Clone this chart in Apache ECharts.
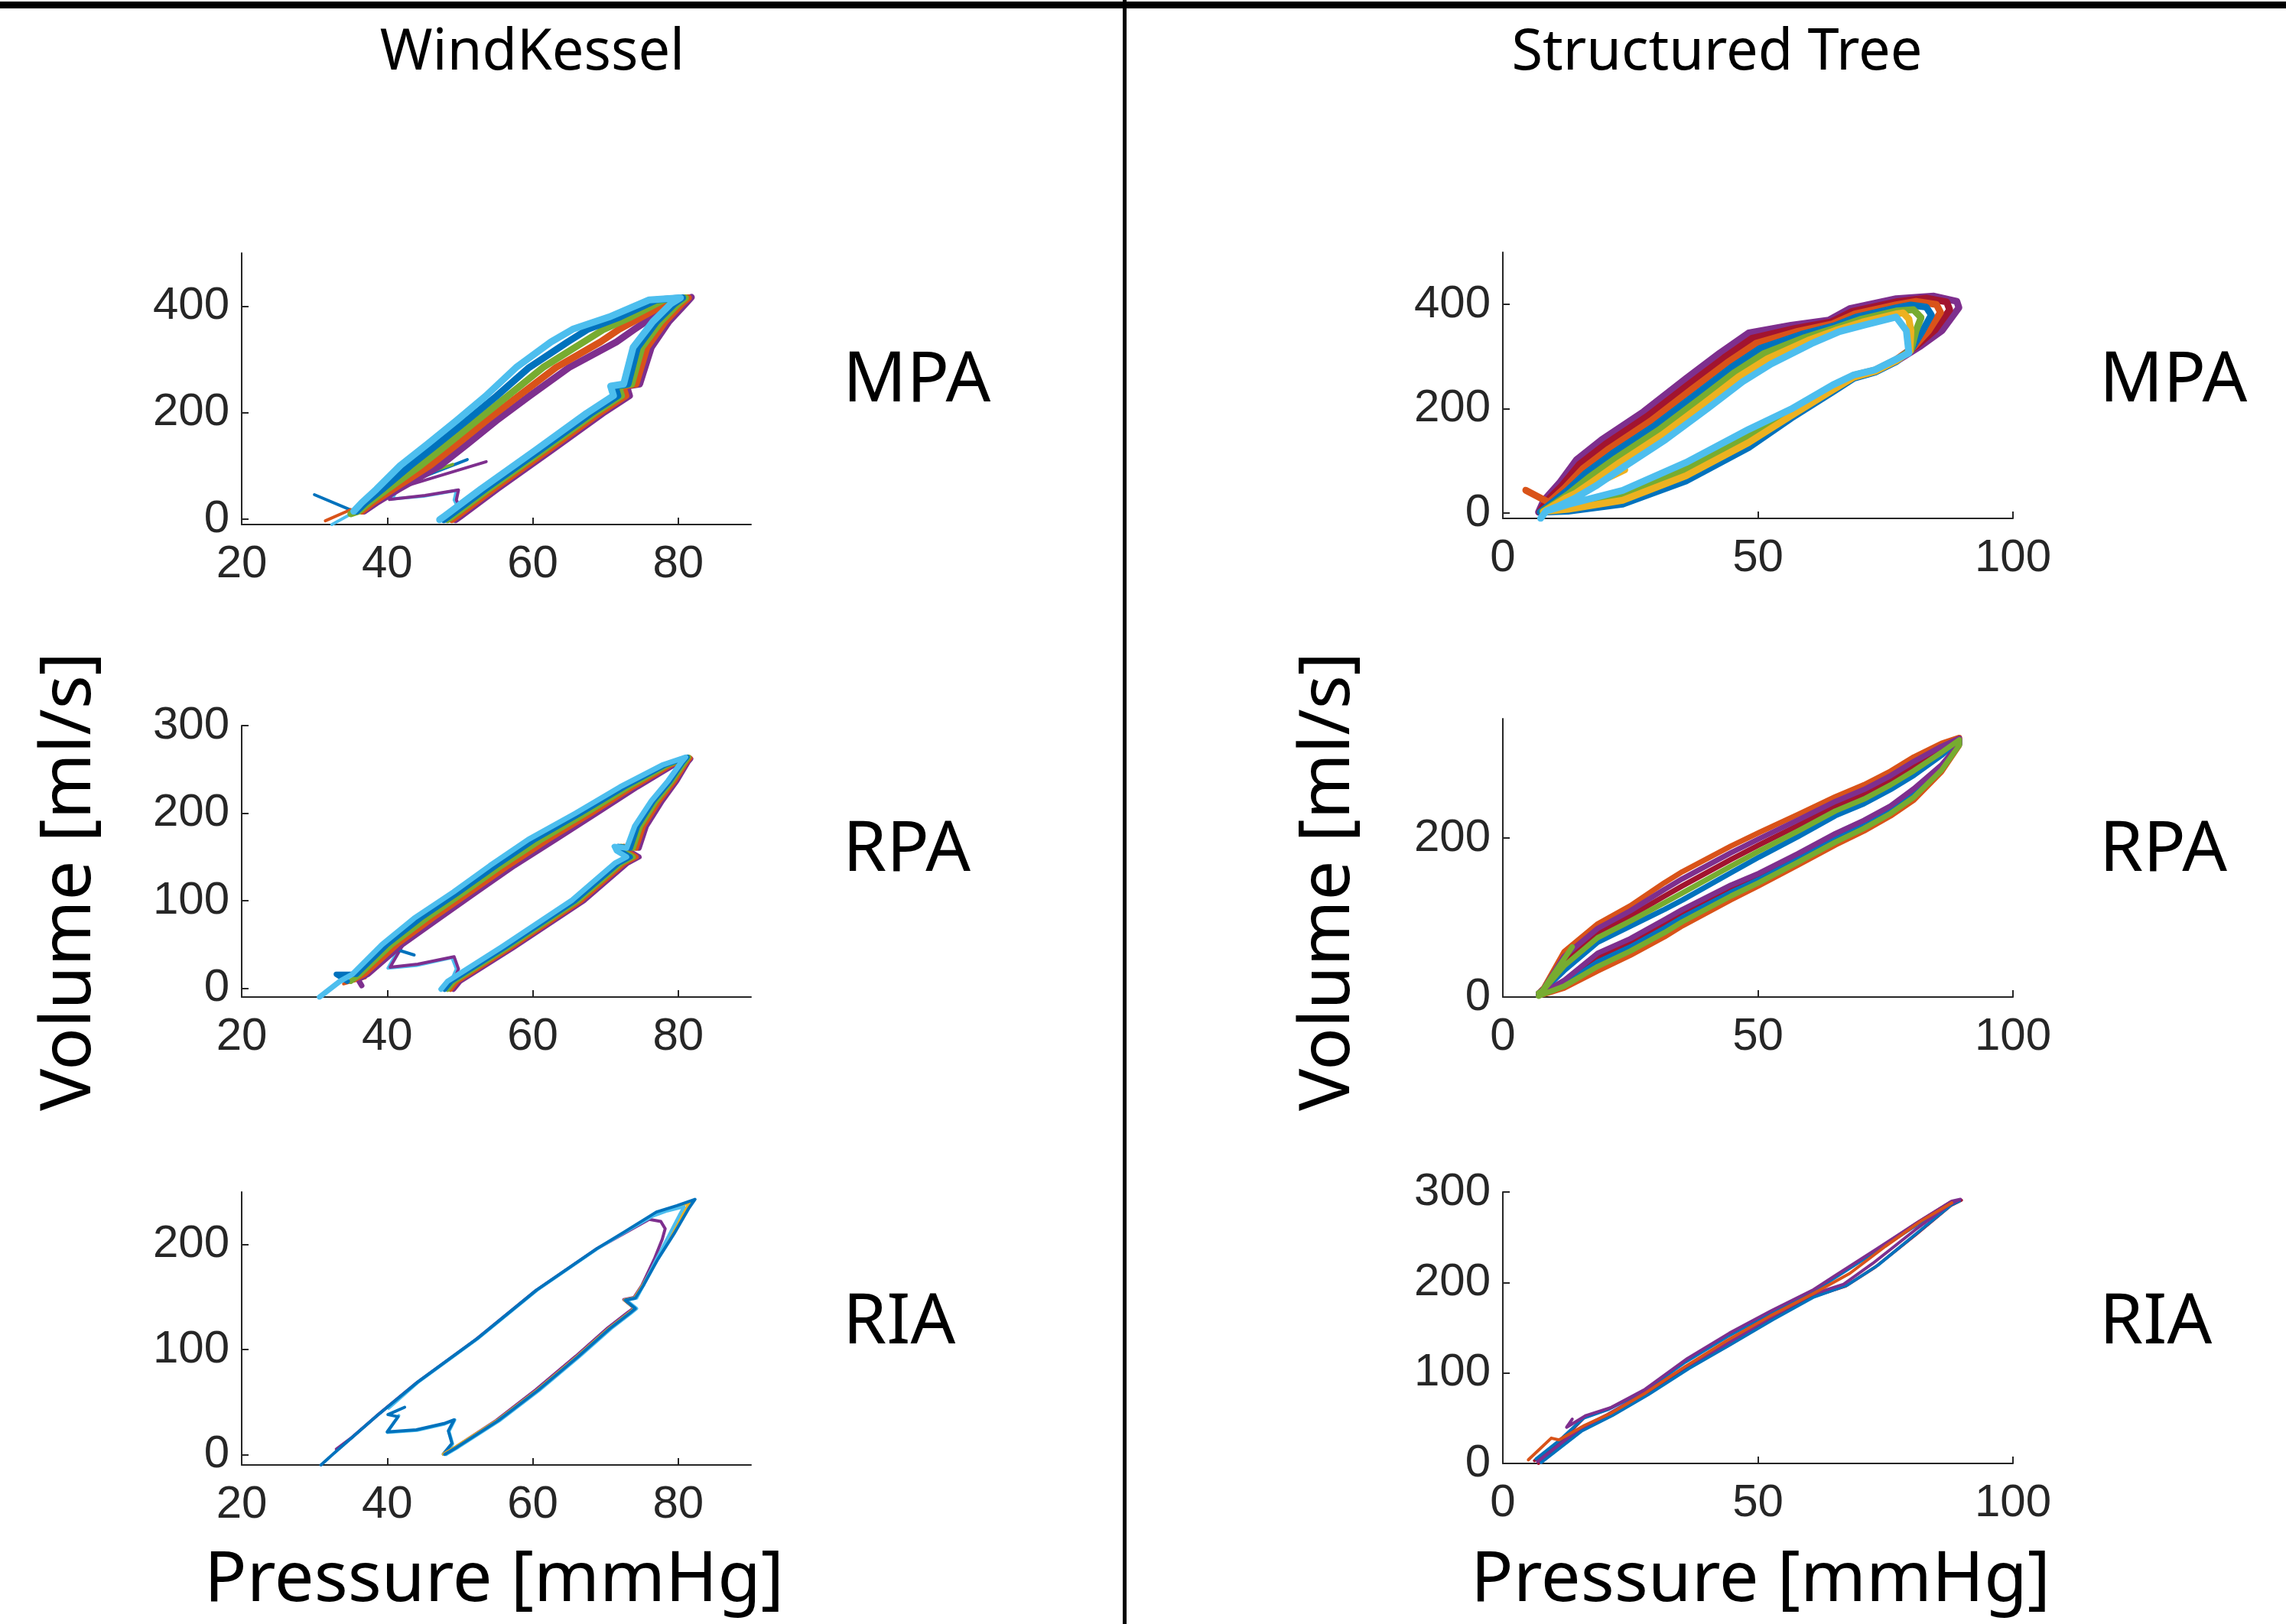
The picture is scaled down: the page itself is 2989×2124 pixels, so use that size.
<!DOCTYPE html>
<html lang="en">
<head>
    <meta charset="UTF-8">
    <title>Pressure - Volume loops</title>
    <script src="https://cdn.jsdelivr.net/npm/echarts@6/dist/echarts.min.js"></script>
    <style>
        html, body { margin: 0; padding: 0; background: #fff; }
        #main { width: 2989px; height: 2124px; }
    </style>
</head>
<body>
    <div id="main"></div>
    <script>
        // MATLAB default line colours
        var matlabColors = ['#0072BD', '#D95319', '#EDB120', '#7E2F8E', '#77AC30', '#4DBEEE', '#A2142F'];

        // tick labels
        var wkXTicks = [20, 40, 60, 80];
        var stXTicks = [0, 50, 100];
        var mpaYTicks = [0, 200, 400];
        var wkRpaYTicks = [0, 100, 200, 300];
        var wkRiaYTicks = [0, 100, 200];
        var stRpaYTicks = [0, 200];
        var stRiaYTicks = [0, 100, 200, 300];

        // traces: [pressure mmHg, volume ml/s]
        var wkMpa = [
            [[49.4,-1],[50.1,6],[55.1,57],[62.6,130],[69.6,199],[73.3,232],[72.9,250],[74.7,254],[76.3,323],[78.7,371],[81,405],[81.8,417],[80,405],[76.5,380],[74,357],[71.5,333],[65,285],[59.5,231],[55,185],[51,141],[47.3,101],[41.5,56],[38.5,31],[36.8,15]],
            [[48.9,-1],[49.6,6],[54.6,57],[62.1,130],[69.1,199],[72.8,232],[72.4,250],[74.2,254],[75.7,323],[78.2,371],[80.5,405],[81.4,416],[79,410],[75,380],[71.9,357],[69.3,333],[63.2,285],[58,231],[53.6,185],[49.6,141],[45.9,101],[40.8,56],[38,31],[36.5,15]],
            [[48.3,-1],[49,6],[54,57],[61.5,130],[68.5,199],[72.2,232],[71.8,250],[73.6,254],[75,323],[77.6,371],[80,405],[81,416],[78,412],[73.5,380],[69.8,357],[67,333],[61.4,285],[56.5,231],[52.3,185],[48.3,141],[44.6,101],[40,56],[37.5,31],[36.1,15],[35,10]],
            [[47.8,-1],[48.5,6],[53.5,57],[61,130],[68,199],[71.7,232],[71.3,250],[73.1,254],[74.4,323],[77,371],[79.5,405],[80.6,416],[77,412],[72,380],[67.6,357],[64.8,333],[59.5,285],[55,231],[50.9,185],[46.9,141],[43.2,101],[39.3,56],[37,31],[35.8,15]],
            [[47.2,-1],[47.9,6],[52.9,57],[60.4,130],[67.4,199],[71.1,232],[70.7,250],[72.5,254],[73.8,323],[76.5,371],[79,405],[80.3,416],[76,412],[70.5,380],[65.5,357],[62.5,333],[57.7,285],[53.5,231],[49.5,185],[45.5,141],[41.8,101],[38.5,56],[36.5,31],[35.4,15]]
        ];
        var wkMpaThin = [
            [[41.7,64],[40.7,38],[45,43],[49.5,54],[49.2,36],[49.7,22],[48.3,-1]],
            [[41,60],[40.3,37],[45.2,44.5],[49.8,55],[49.5,36],[50,22],[48.8,-1]],
            [[41.2,60],[51,112]],
            [[41.5,58],[53.6,108]],
            [[40.8,65],[49,103]],
            [[35.4,15],[30,46]],
            [[35.6,14],[32.4,-10]],
            [[35,18],[31.5,-3]]
        ];
        var wkRpa = [
            [[49.1,-1],[50,8],[57.4,47],[67,100],[73,143],[74.6,150],[73.2,157],[72.9,162],[74.6,160],[75.6,185],[77.8,214],[79.8,237],[81.3,258],[81.7,262],[79.4,255],[74.4,230],[68.8,200],[63.2,170],[57.5,140],[52.3,110],[47.2,80],[42.1,50],[37.4,16],[36,10],[36.5,3]],
            [[48.7,-1],[49.6,8],[57,47],[66.6,100],[72.6,143],[74.2,150],[72.8,157],[72.5,162],[74.2,160],[75.2,185],[77.4,214],[79.5,237],[81.1,258],[81.6,263],[79,255],[73.8,230],[68.1,200],[62.2,170],[56.7,140],[51.5,110],[46.3,80],[41.4,50],[36.9,16],[35.5,10]],
            [[48.3,-1],[49.2,8],[56.6,47],[66.2,100],[72.2,143],[73.8,150],[72.4,157],[72.1,162],[73.8,160],[74.8,185],[77,214],[79.2,237],[80.9,258],[81.4,264],[78.6,255],[73.2,230],[67.4,200],[61.3,170],[55.8,140],[50.7,110],[45.5,80],[40.7,50],[36.3,16],[35,8]],
            [[47.9,-1],[48.8,8],[56.2,47],[65.8,100],[71.8,143],[73.4,150],[72,157],[71.7,162],[73.4,160],[74.4,185],[76.6,214],[78.9,237],[80.6,258],[81.2,264],[78.2,255],[72.6,230],[66.6,200],[60.3,170],[55,140],[49.9,110],[44.6,80],[40,50],[35.8,16],[33,16],[34.5,8]],
            [[47.4,-1],[48.3,8],[55.7,47],[65.3,100],[71.3,143],[72.9,150],[71.5,157],[71.2,162],[72.9,160],[74,185],[76.3,214],[78.6,237],[80.4,258],[81,264],[77.8,255],[72,230],[65.9,200],[59.4,170],[54.1,140],[49.1,110],[43.7,80],[39.3,50],[35.2,16],[33.5,8],[30.7,-10]]
        ];
        var wkRpaThin = [
            [[41.8,48],[40.1,23],[44,26],[48.9,35],[49.5,22],[48.4,1.5],[48.8,-1]],
            [[42.2,50],[40.4,24],[44.2,27.5],[49.2,36],[49.8,22],[48.8,1],[49.2,-1]],
            [[41,45],[43.7,38]],
            [[33,16],[36.5,18]],
            [[34,5],[37,12]]
        ];
        var wkRia = [
            [[47.8,0.5],[49.5,7.5],[55,32.5],[60.4,61.5],[65.9,93.5],[70.3,120.5],[73,135],[73.9,139.5],[72.5,147.5],[73.9,149.5],[75,161],[76.7,186],[77.8,205],[78.2,215],[77.6,222],[76,224],[72.4,210],[68.7,195.5],[60.4,156],[52.2,109.5],[44,68],[38.5,36.5],[35.2,16.5],[33,5]],
            [[47.7,0.3],[49.4,7.2],[55.1,32.2],[60.6,61.2],[66.1,93.2],[70.5,120.2],[73.2,134.7],[74,139.2],[72.6,147.2],[74,149.2],[75.1,161],[77.1,186],[79,210],[80.9,232],[81.6,240],[79.2,234],[76.8,229]],
            [[48.1,0],[49.8,7],[55.4,32],[60.9,61],[66.4,93],[70.8,120],[73.5,134.5],[74.3,139],[72.9,147],[74.3,149],[75.2,161],[77,186],[78.8,210],[80.3,230],[80.8,236],[78.5,232],[76.5,227],[72.5,211],[68.9,196],[60.6,156.5],[52.4,110],[44.2,68.5],[40.2,44]],
            [[47.9,0],[49.6,7],[55.2,32],[60.7,61],[66.2,93],[70.6,120],[73.3,134.5],[74.1,139],[72.7,147],[74.1,149],[75.2,161],[77.2,186],[79.4,210],[81.5,235],[82.3,243],[79.8,237],[77,231],[72.6,212],[68.8,196],[60.5,156.5],[52.3,110],[44.1,68.5],[38.6,37],[35.3,17],[32.5,0],[30.9,-10]]
        ];
        var wkRiaThin = [
            [[41.6,37],[40,21],[44.1,23],[47.9,29],[49.3,33],[48.5,22],[49,10],[48.1,0]],
            [[42.4,45],[40.1,38],[41.5,36],[40,21.5],[44,23.5],[47.8,29.5],[49.2,33],[48.4,22.5],[48.9,10.5],[47.7,0.3]]
        ];
        var stMpa = [
            [[7,2],[12.8,5.3],[23.5,20.4],[35.9,65.8],[48.2,129.7],[56.5,183.9],[64.7,234],[68.8,259.4],[73,271],[77.1,291],[82,321],[86.1,350],[89.4,394],[89,406],[84.5,416],[77.1,411],[68,392],[63.9,370],[56.5,360],[48.2,345.5],[42.5,306.6],[35.9,258],[27.6,194.6],[19.4,141],[14.4,102],[11.1,58],[8,24],[7,2]],
            [[7.2,2],[12.8,9.7],[23.5,29.2],[35.9,77.5],[48.2,141.3],[56.5,189.8],[64.7,238.5],[68.8,261.5],[73,272.5],[77.1,292.5],[81,320],[84.8,352],[87.6,390],[87,405],[83,412],[77.1,405],[68.5,386.7],[64.3,366.3],[57.2,354],[48.9,335.4],[43.3,297.3],[36.6,248.3],[28.3,185.5],[20.1,132],[15,93.5],[11.6,52.9],[8.5,22.3],[7.2,2]],
            [[7.5,3],[12.8,15.5],[23.5,40.9],[35.9,93.1],[48.2,156.7],[56.5,197.6],[64.7,244.5],[68.8,264.3],[73,274.5],[77.1,294.5],[80.5,318],[83.5,350],[85.8,385],[85,400],[81,406],[77.1,399.5],[69,381.8],[64.6,362.7],[57.8,348.5],[49.7,325.9],[44,288.6],[37.3,239.2],[29,176.9],[20.8,123.5],[15.7,85.5],[12.1,48.1],[9,20.7],[4.5,44]],
            [[7.3,2],[12.8,3.9],[23.5,17.5],[35.9,61.9],[48.2,125.9],[56.5,182],[64.7,232.5],[68.8,258.7],[73,270.5],[77.1,290.5],[80.2,316],[82.3,350],[84,380],[83,395],[80,399],[77.1,393.5],[69.5,376.5],[65,359],[58.5,342.5],[50.4,315.8],[44.8,279.3],[38.1,229.5],[29.8,167.8],[21.5,114.5],[16.3,77],[12.6,43],[9.5,19],[7.3,2]],
            [[7.8,3],[12.8,12.6],[23.5,35],[35.9,85.3],[48.2,149],[56.5,193.7],[64.7,241.5],[68.8,262.9],[73,273.5],[77.1,293.5],[80,312],[81,350],[82,375],[80.5,390],[77.1,387.5],[70,371.2],[65.3,355.3],[59.2,336.5],[51.1,305.6],[45.5,270],[38.8,219.8],[30.5,158.7],[22.2,105.5],[16.9,68.5],[13,37.9],[10,17.3],[7.8,3]],
            [[23.9,83],[12.5,30],[8,3],[12.8,7.5],[23.5,24.8],[35.9,71.7],[48.2,135.5],[56.5,186.8],[64.7,236.3],[68.8,260.5],[73,271.8],[77.1,291.8],[79.8,310],[80,350],[79.6,372],[78.5,384],[77.1,382],[70.5,366.3],[65.6,351.7],[59.8,331],[51.9,296.1],[46.2,261.3],[39.5,210.7],[31.2,150.1],[22.9,97],[17.6,60.5],[13.5,33.1],[10.5,15.7],[8,3]],
            [[8.5,4],[12.8,17],[23.5,43.8],[35.9,97],[48.2,160.6],[56.5,199.5],[64.7,246],[68.8,265],[73,275],[77.1,295],[79.6,307],[79.1,350],[77.1,376],[71,361],[66,348],[60.5,325],[52.6,286],[47,252],[40.2,201],[31.9,141],[23.6,88],[18.2,52],[14,28],[11,14],[8.5,4],[7.4,-10]]
        ];
        var stRpa = [
            [[7,2],[8,3.3],[12,11.2],[18.6,32.8],[25,52.6],[31.7,75.7],[35.2,89.6],[44.7,122.3],[50.2,140],[57.8,165.8],[65.2,191.3],[70.8,208.7],[76,227.6],[80.6,247.8],[86,283.1],[89.5,316.3],[89.5,326.5],[86,319.1],[80.6,302.1],[76,284.1],[70.8,267],[65.2,252],[57.8,229.5],[50.2,206.7],[44.7,189.8],[35.2,157.6],[31.7,143.8],[25,114.8],[18.6,92.1],[12,57],[8,11.6],[7,5]],
            [[7,2],[8,5.1],[12,18.4],[18.6,49.6],[25,68.2],[31.7,91.9],[35.2,104.9],[44.7,136.1],[50.2,151.7],[57.8,176.6],[65.2,202.1],[70.8,218.9],[76,237.2],[80.6,258.6],[86,289.7],[89.5,318.1],[89.5,324.5],[86,311.5],[80.6,290.5],[76,272.5],[70.8,255],[65.2,240],[57.8,215.5],[50.2,191.3],[44.7,173],[35.2,139.8],[31.7,127],[25,102],[18.6,80.5],[12,45],[8,10],[7,5]],
            [[7,2],[8,4.5],[12,16],[18.6,44],[25,63],[31.7,86.5],[35.2,99.8],[44.7,131.5],[50.2,147.8],[57.8,173],[65.2,198.5],[70.8,215.5],[76,234],[80.6,255],[86,287.5],[89.5,317.5],[89.5,322.5],[86,303.9],[80.6,278.9],[76,260.9],[70.8,243],[65.2,228],[57.8,201.5],[50.2,175.9],[44.7,156.2],[35.2,122],[31.7,110.2],[25,89.2],[18.6,68.9],[12,33],[8,8.4],[7,5]],
            [[7,2],[8,5.7],[12,20.8],[18.6,55.2],[25,73.4],[31.7,97.3],[35.2,110],[44.7,140.7],[50.2,155.6],[57.8,180.2],[65.2,205.7],[70.8,222.3],[76,240.4],[80.6,262.2],[86,291.9],[89.5,318.7],[89.5,325.5],[86,315.3],[80.6,296.3],[76,278.3],[70.8,261],[65.2,246],[57.8,222.5],[50.2,199],[44.7,181.4],[35.2,148.7],[31.7,135.4],[25,108.4],[18.6,86.3],[12,51],[8,10.8],[7,5]],
            [[13.6,63],[9,20],[7,1],[8,3.9],[12,13.6],[18.6,38.4],[25,57.8],[31.7,81.1],[35.2,94.7],[44.7,126.9],[50.2,143.9],[57.8,169.4],[65.2,194.9],[70.8,212.1],[76,230.8],[80.6,251.4],[86,285.3],[89.5,316.9],[89.5,323.5],[86,307.7],[80.6,284.7],[76,266.7],[70.8,249],[65.2,234],[57.8,208.5],[50.2,183.6],[44.7,164.6],[35.2,130.9],[31.7,118.6],[25,95.6],[18.6,74.7],[12,39],[8,9.2],[7,5]]
        ];
        var stRia = [
            [[7,0],[15.3,37],[21,52],[28,75],[35.9,104.5],[44.1,130],[52.4,158],[60.6,184],[67.2,196],[73,217],[81.2,254],[87.8,285],[89.9,291],[87.8,289],[81.2,266],[73,235],[64.7,205],[60.6,190],[52.4,167],[44.1,142],[35.9,114],[27.6,80],[21,61],[16,51],[11.1,23],[6.2,3]],
            [[7.5,1],[15.5,36],[21.5,53],[28.5,76],[36.5,105],[44.5,131],[53,159],[61,184],[67.5,197],[73.5,219],[81.5,256],[88,286],[89.5,290],[87.5,287],[81,263],[72.8,233],[64.5,203],[60.4,188],[52.2,165],[44,140],[35.8,112],[27.5,79],[20.8,60],[15.8,50],[11,25],[6.5,5]],
            [[6.8,2],[15,38],[20.5,54],[27.5,77],[35.5,106],[43.8,132],[52,160],[60.2,186],[66.8,198],[72.5,221],[80.8,258],[87.5,286],[89.7,292],[88,290],[81.5,267],[73.3,237],[65,207],[60.9,192],[52.7,169],[44.4,144],[36.2,116],[27.9,82],[21.3,62],[16.3,53],[12.5,40],[13.6,49]],
            [[5,4],[9.5,28],[11,26],[16,42],[21,55],[28,78],[36,108],[44,136],[52.4,163],[60.6,187],[68,210],[75,240],[82,268],[88,288]]
        ];

        var panels = [
            { box: [316, 331, 666, 355], x: [20, 90], xt: wkXTicks, y: [-10, 500], yt: mpaYTicks,
              traces: wkMpa, col: [3, 1, 4, 0, 5], lw: 9, thin: wkMpaThin, thinCol: [5, 3, 0, 3, 4, 0, 5, 1] },
            { box: [316, 949, 666, 355], x: [20, 90], xt: wkXTicks, y: [-10, 300], yt: wkRpaYTicks,
              traces: wkRpa, col: [3, 1, 4, 0, 5], lw: 7, thin: wkRpaThin, thinCol: [5, 3, 0, 3, 1] },
            { box: [316, 1559, 666, 357], x: [20, 90], xt: wkXTicks, y: [-10, 250], yt: wkRiaYTicks,
              traces: wkRia, col: [3, 2, 5, 0], lw: 4, thin: wkRiaThin, thinCol: [5, 0] },
            { box: [1965, 330, 667, 348], x: [0, 100], xt: stXTicks, y: [-10, 500], yt: mpaYTicks,
              traces: stMpa, col: [3, 6, 1, 0, 4, 2, 5], lw: 9 },
            { box: [1965, 940, 667, 364], x: [0, 100], xt: stXTicks, y: [0, 350], yt: stRpaYTicks,
              traces: stRpa, col: [1, 6, 0, 3, 4], lw: 7 },
            { box: [1965, 1559, 667, 355], x: [0, 100], xt: stXTicks, y: [0, 300], yt: stRiaYTicks,
              traces: stRia, col: [6, 0, 3, 1], lw: 4 }
        ];

        var axisColor = '#262626';
        var grids = [], xAxes = [], yAxes = [], series = [];

        function addLine(i, data, color, width) {
            series.push({
                type: 'line', xAxisIndex: i, yAxisIndex: i,
                data: data, showSymbol: false, symbol: 'none', silent: true,
                lineStyle: { color: color, width: width, join: 'round', cap: 'round' }
            });
        }

        panels.forEach(function (p, i) {
            grids.push({ left: p.box[0], top: p.box[1], width: p.box[2], height: p.box[3], containLabel: false });
            var common = {
                gridIndex: i, type: 'value',
                splitLine: { show: false },
                axisLine: { show: true, onZero: false, lineStyle: { color: axisColor, width: 2 } },
                axisTick: { show: true, inside: true, length: 9, lineStyle: { color: axisColor, width: 2 } },
                axisLabel: { fontSize: 60, fontFamily: 'Liberation Sans', color: axisColor }
            };
            var xa = JSON.parse(JSON.stringify(common));
            xa.min = p.x[0]; xa.max = p.x[1];
            xa.axisTick.customValues = p.xt;
            xa.axisLabel.customValues = p.xt;
            xa.axisLabel.margin = 22;
            xAxes.push(xa);
            var ya = JSON.parse(JSON.stringify(common));
            ya.min = p.y[0]; ya.max = p.y[1];
            ya.axisTick.customValues = p.yt;
            ya.axisLabel.customValues = p.yt;
            ya.axisLabel.margin = 16;
            yAxes.push(ya);
            (p.thin || []).forEach(function (t, k) {
                addLine(i, t, matlabColors[p.thinCol[k % p.thinCol.length]], 4);
            });
            p.traces.forEach(function (t, k) {
                addLine(i, t, matlabColors[p.col[k % p.col.length]], p.lw);
            });
        });

        var bigFont = { fontSize: 92, fontFamily: 'Noto Sans', fill: '#000' };
        function label(text, x, y, extra) {
            var st = Object.assign({ text: text, textAlign: 'left', textVerticalAlign: 'middle' }, bigFont, extra || {});
            return { type: 'text', x: x, y: y, style: st, z: 10 };
        }

        var graphics = [
            { type: 'rect', shape: { x: 0, y: 2, width: 2989, height: 9 }, style: { fill: '#000' } },
            { type: 'rect', shape: { x: 1468, y: 0, width: 5, height: 2124 }, style: { fill: '#000' } },
            label('WindKessel', 696, 70, { fontSize: 74, textAlign: 'center' }),
            label('Structured Tree', 2245, 70, { fontSize: 74, textAlign: 'center' }),
            label('MPA', 1102, 499), label('RPA', 1102, 1113), label('RIA', 1102, 1731),
            label('MPA', 2745, 499), label('RPA', 2745, 1113), label('RIA', 2745, 1731),
            label('Pressure [mmHg]', 646, 2068, { textAlign: 'center' }),
            label('Pressure [mmHg]', 2302, 2068, { textAlign: 'center' })
        ];
        graphics.push({ type: 'text', x: 92, y: 1153, rotation: Math.PI / 2,
            style: Object.assign({ text: 'Volume [ml/s]', textAlign: 'center', textVerticalAlign: 'middle' }, bigFont) });
        graphics.push({ type: 'text', x: 1738, y: 1153, rotation: Math.PI / 2,
            style: Object.assign({ text: 'Volume [ml/s]', textAlign: 'center', textVerticalAlign: 'middle' }, bigFont) });

        var myChart = echarts.init(document.getElementById('main'));
        myChart.setOption({
            animation: false,
            backgroundColor: '#fff',
            grid: grids,
            xAxis: xAxes,
            yAxis: yAxes,
            series: series,
            graphic: graphics
        });
    </script>
</body>
</html>
